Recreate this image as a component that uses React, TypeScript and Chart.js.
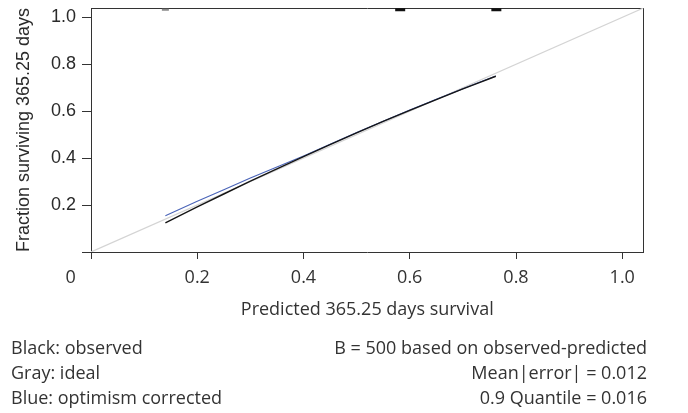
import React, { useEffect, useRef } from 'react';
import { Chart, registerables } from 'chart.js';

Chart.register(...registerables);

// Calibration curve (predicted vs. observed 365.25-day survival)
const calX = [0.14, 0.2, 0.3, 0.4, 0.5, 0.6, 0.7, 0.762];
const observedY = [0.124, 0.192, 0.302, 0.407, 0.508, 0.604, 0.695, 0.749];
const correctedY = [0.155, 0.216, 0.315, 0.409, 0.509, 0.605, 0.696, 0.750];
// Ideal diagonal
const idealX = [0, 1.04];
const idealY = [0, 1.04];
// Spike histogram of predicted values (drawn along the top edge)
const spikeX = [0.14, 0.582, 0.763];
const spikeY = [1.033, 1.033, 1.033];
// Axis ticks
const xTickValues = [0, 0.2, 0.4, 0.6, 0.8, 1.0];
const xTickLabels = ['0', '0.2', '0.4', '0.6', '0.8', '1.0'];
const yTickValues = [0, 0.2, 0.4, 0.6, 0.8, 1.0];
const yTickLabels = ['', '0.2', '0.4', '0.6', '0.8', '1.0'];
// Notes under the plot
const notesLeft = ['Black: observed', 'Gray: ideal', 'Blue: optimism corrected'];
const notesRight = ['B = 500 based on observed-predicted', 'Mean|error| = 0.012', '0.9 Quantile = 0.016'];

const AXIS = '#333333';
const SANS = 'Open Sans';
const ARIAL = 'Liberation Sans';

const pts = (xs: number[], ys: number[]) => xs.map((x, i) => ({ x, y: ys[i] }));

const notesPlugin = {
  id: 'notes',
  afterDraw(chart: any) {
    const { ctx } = chart;
    ctx.save();
    ctx.font = `18px "${SANS}"`;
    ctx.fillStyle = AXIS;
    ctx.textBaseline = 'alphabetic';
    notesLeft.forEach((t, i) => {
      ctx.textAlign = 'left';
      ctx.fillText(t, 11, 354 + 25 * i);
    });
    notesRight.forEach((t, i) => {
      ctx.textAlign = 'right';
      ctx.fillText(t, 647, 354 + 25 * i);
    });
    ctx.restore();
  },
};

export default function App() {
  const ref = useRef<HTMLCanvasElement | null>(null);

  useEffect(() => {
    if (!ref.current) return;
    const chart = new Chart(ref.current, {
      type: 'scatter',
      data: {
        datasets: [
          {
            label: 'spikes',
            data: pts(spikeX, spikeY),
            showLine: false,
            pointStyle: 'line',
            pointRadius: [3.5, 5, 5],
            pointBorderWidth: [2, 3, 3],
            pointBorderColor: ['#8a8a8a', '#111111', '#111111'],
            pointBackgroundColor: ['#8a8a8a', '#111111', '#111111'],
            pointHoverRadius: 0,
          },
          {
            label: 'observed',
            data: pts(calX, observedY),
            showLine: true,
            borderColor: '#161616',
            borderWidth: 1.4,
            pointRadius: 0,
            tension: 0.2,
          },
          {
            label: 'optimism corrected',
            data: pts(calX, correctedY),
            showLine: true,
            borderColor: '#4a64b8',
            borderWidth: 1.1,
            pointRadius: 0,
            tension: 0.2,
          },
          {
            label: 'ideal',
            data: pts(idealX, idealY),
            showLine: true,
            borderColor: '#d4d4d4',
            borderWidth: 1.2,
            pointRadius: 0,
          },
        ],
      },
      options: {
        responsive: false,
        animation: false,
        layout: { padding: { left: 0, right: 44.5, top: 8, bottom: 91 } },
        plugins: { legend: { display: false }, tooltip: { enabled: false } },
        scales: {
          x: {
            type: 'linear',
            position: 'bottom',
            min: 0,
            max: 1.04,
            afterBuildTicks: (s: any) => {
              s.ticks = xTickValues.map((v) => ({ value: v }));
            },
            afterFit: (s: any) => {
              s.height = 70;
              s.paddingLeft = 0;
              s.paddingRight = 0;
            },
            grid: { drawOnChartArea: false, tickLength: 7, color: AXIS },
            border: { display: true, color: AXIS, width: 1 },
            ticks: {
              autoSkip: false,
              maxRotation: 0,
              padding: 8,
              color: AXIS,
              font: { family: SANS, size: 18 },
              callback: (v: any) => {
                const i = xTickValues.indexOf(Number(v));
                const lab = xTickLabels[i] ?? '';
                return i === 0 ? lab + '\u2003\u2003\u2005' : lab;
              },
            },
            title: {
              display: true,
              text: 'Predicted 365.25 days survival',
              color: AXIS,
              font: { family: SANS, size: 18 },
              padding: { top: 0, bottom: 1 },
            },
          },
          y: {
            type: 'linear',
            position: 'left',
            min: 0,
            max: 1.04,
            afterBuildTicks: (s: any) => {
              s.ticks = yTickValues.map((v) => ({ value: v }));
            },
            afterFit: (s: any) => {
              s.width = 91;
              s.paddingTop = 0;
              s.paddingBottom = 0;
            },
            grid: { drawOnChartArea: false, tickLength: 9, color: AXIS },
            border: { display: true, color: AXIS, width: 1 },
            ticks: {
              padding: 6,
              color: '#2a2a2a',
              font: { family: ARIAL, size: 18 },
              callback: (v: any) => yTickLabels[yTickValues.indexOf(Number(v))] ?? '',
            },
            title: {
              display: true,
              text: 'Fraction surviving 365.25 days',
              color: '#2a2a2a',
              font: { family: ARIAL, size: 18 },
              padding: { top: 13, bottom: 0 },
            },
          },
          xTop: {
            type: 'linear',
            position: 'top',
            display: true,
            min: 0,
            max: 1.04,
            grid: { display: false, drawTicks: false },
            ticks: { display: false },
            border: { display: true, color: AXIS, width: 1 },
            afterFit: (s: any) => {
              s.height = 0;
              s.paddingLeft = 0;
              s.paddingRight = 0;
            },
          },
          yRight: {
            type: 'linear',
            position: 'right',
            display: true,
            min: 0,
            max: 1.04,
            grid: { display: false, drawTicks: false },
            ticks: { display: false },
            border: { display: true, color: AXIS, width: 1 },
            afterFit: (s: any) => {
              s.width = 0;
              s.paddingTop = 0;
              s.paddingBottom = 0;
            },
          },
        },
      } as any,
      plugins: [notesPlugin],
    });
    return () => chart.destroy();
  }, []);

  return (
    <canvas
      ref={ref}
      width={688}
      height={413}
      style={{ position: 'absolute', left: 0, top: 0, background: '#ffffff' }}
    />
  );
}
